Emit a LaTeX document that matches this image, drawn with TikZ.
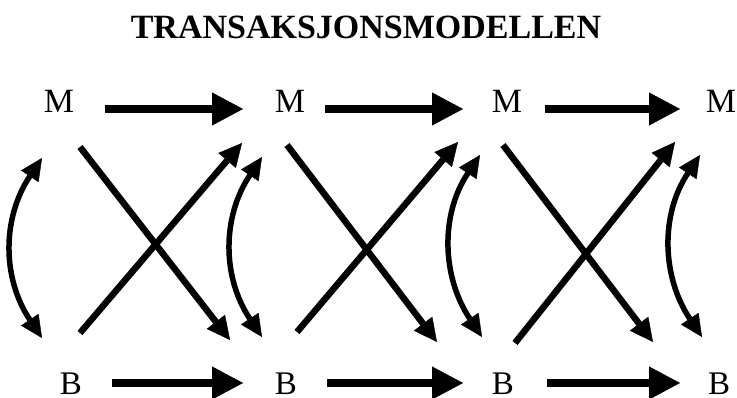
\documentclass[tikz,border=0pt]{standalone}
\usepackage{fontspec}
\setmainfont{Liberation Serif}
\usetikzlibrary{arrows.meta}
\begin{document}
\begin{tikzpicture}[x=1pt,y=-1pt,
  mlabel/.style={inner sep=0pt, font=\fontsize{34}{34}\selectfont, text height=12pt, text depth=4pt},
  blabel/.style={inner sep=0pt, font=\fontsize{33}{33}\selectfont, text height=22pt, text depth=0pt},
  harrow/.style={line width=8.5pt, -{Triangle[length=31pt,width=33pt,line width=0.4pt]}},
  xarrow/.style={line width=6.5pt, -{Triangle[length=23pt,width=23pt,line width=0.4pt]}},
  carrow/.style={line width=5.5pt, {Triangle[length=22pt,width=21pt,line width=0.4pt]}-{Triangle[length=22pt,width=21pt,line width=0.4pt]}},
  titletext/.style={font=\fontsize{34}{34}\selectfont\bfseries, anchor=base, inner sep=0pt}]
\useasboundingbox (0,0) rectangle (737,398);
\node[titletext] (title) at (366,39) {TRANSAKSJONSMODELLEN};
% nodes
\node[mlabel] (M1) at (59,109) {M};
\node[mlabel] (M2) at (290,109) {M};
\node[mlabel] (M3) at (507,109) {M};
\node[mlabel] (M4) at (721,109) {M};
\node[blabel] (B1) at (71,383) {B};
\node[blabel] (B2) at (286,383) {B};
\node[blabel] (B3) at (503,383) {B};
\node[blabel] (B4) at (719,383) {B};
% horizontal arrows
\draw[harrow] ([xshift=46pt]M1.center) -- ([xshift=-47pt]M2.center);
\draw[harrow] ([xshift=35pt]M2.center) -- ([xshift=-44pt]M3.center);
\draw[harrow] ([xshift=38pt]M3.center) -- ([xshift=-41pt]M4.center);
\draw[harrow] ([xshift=41pt]B1.center) -- ([xshift=-43pt]B2.center);
\draw[harrow] ([xshift=41pt]B2.center) -- ([xshift=-40pt]B3.center);
\draw[harrow] ([xshift=44pt]B3.center) -- ([xshift=-39pt]B4.center);
% crossing arrows
\draw[xarrow] ([shift={(21pt,-38pt)}]M1.center) -- ([shift={(-56pt,43pt)}]B2.center);
\draw[xarrow] ([shift={(9pt,50pt)}]B1.center) -- ([shift={(-48pt,-34pt)}]M2.center);
\draw[xarrow] ([shift={(-3pt,-36pt)}]M2.center) -- ([shift={(-66pt,41pt)}]B3.center);
\draw[xarrow] ([shift={(11pt,51pt)}]B2.center) -- ([shift={(-49pt,-33pt)}]M3.center);
\draw[xarrow] ([shift={(-4pt,-36pt)}]M3.center) -- ([shift={(-66pt,41pt)}]B4.center);
\draw[xarrow] ([shift={(12pt,40pt)}]B3.center) -- ([shift={(-46pt,-33pt)}]M4.center);
% curved double arrows
\draw[carrow] ([shift={(-17pt,-49pt)}]M1.center) .. controls +(-40,60) and +(-40,-60) .. ([shift={(-29pt,45pt)}]B1.center);
\draw[carrow] ([shift={(-28pt,-48pt)}]M2.center) .. controls +(-40,60) and +(-40,-60) .. ([shift={(-24pt,46pt)}]B2.center);
\draw[carrow] ([shift={(-27pt,-46pt)}]M3.center) .. controls +(-40,60) and +(-40,-60) .. ([shift={(-21pt,46pt)}]B3.center);
\draw[carrow] ([shift={(-21pt,-46pt)}]M4.center) .. controls +(-40,60) and +(-40,-60) .. ([shift={(-17pt,46pt)}]B4.center);
\end{tikzpicture}
\end{document}
